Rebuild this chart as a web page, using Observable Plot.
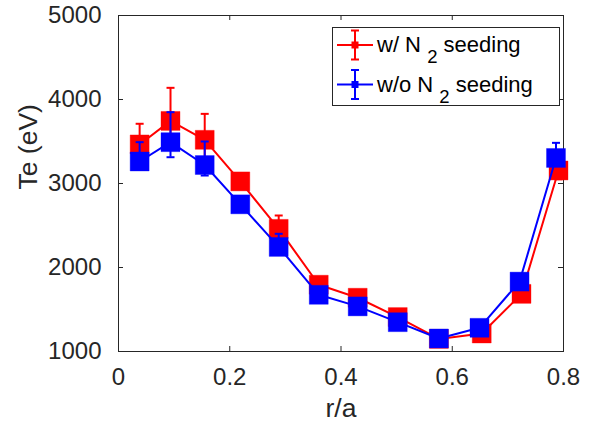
<!DOCTYPE html>
<html><head><meta charset="utf-8">
<script src="https://cdn.jsdelivr.net/npm/d3@7"></script>
<script src="https://cdn.jsdelivr.net/npm/@observablehq/plot@0.6"></script>
<style>
body{margin:0;background:#fff;}
#chart{position:relative;width:590px;height:423px;}
</style></head><body><div id="chart"></div>
<script>
// ---- data ----
const xTicks = [0, 0.2, 0.4, 0.6, 0.8];
const yTicks = [1000, 2000, 3000, 4000, 5000];
const xLabel = "r/a";
const yLabel = "Te (eV)";
const seriesNames = ["w/ N", "w/o N"];
const seriesSub = "2";
const seriesTail = " seeding";
const redR   = [0.038, 0.0935, 0.155, 0.219, 0.288, 0.360, 0.430, 0.502, 0.576, 0.653, 0.7245, 0.791];
const redTe  = [3465, 3745, 3520, 3025, 2460, 1795, 1640, 1410, 1150, 1214, 1686, 3155];
const redLo  = [3300, 3450, 3300, 2990, 2300, 1760, 1605, 1375, 1115, 1180, 1650, 3050];
const redHi  = [3711, 4139, 3829, 3060, 2619, 1830, 1675, 1445, 1185, 1250, 1720, 3260];
const blueR  = [0.038, 0.0935, 0.155, 0.219, 0.288, 0.360, 0.430, 0.502, 0.576, 0.649, 0.721, 0.7865];
const blueTe = [3262, 3492, 3220, 2752, 2245, 1675, 1537, 1349, 1155, 1282, 1832, 3304];
const blueLo = [3200, 3313, 3095, 2715, 2150, 1640, 1500, 1315, 1120, 1245, 1795, 3220];
const blueHi = [3492, 3849, 3500, 2790, 2401, 1710, 1575, 1385, 1190, 1320, 1870, 3484];

const RED = "#ff0000", BLUE = "#0000ff", INK = "#262626";
const FONT = "'Liberation Sans', Arial, Helvetica, sans-serif";

const red = redR.map((r, i) => ({r, te: redTe[i], lo: redLo[i], hi: redHi[i]}));
const blue = blueR.map((r, i) => ({r, te: blueTe[i], lo: blueLo[i], hi: blueHi[i]}));

const cap = {draw(ctx) { ctx.moveTo(-4, 0); ctx.lineTo(4, 0); }};

function series(data, color) {
  return [
    Plot.line(data, {x: "r", y: "te", stroke: color, strokeWidth: 2}),
    Plot.ruleX(data, {x: "r", y1: "lo", y2: "hi", stroke: color, strokeWidth: 2}),
    Plot.dot(data, {x: "r", y: "hi", symbol: cap, r: 4, stroke: color, strokeWidth: 2}),
    Plot.dot(data, {x: "r", y: "lo", symbol: cap, r: 4, stroke: color, strokeWidth: 2}),
    Plot.dot(data, {x: "r", y: "te", symbol: "square", r: 10.7, fill: color, stroke: color, strokeOpacity: 0.35, strokeWidth: 1})
  ];
}

const svg = Plot.plot({
  width: 590, height: 423,
  marginLeft: 118, marginRight: 27, marginTop: 15, marginBottom: 72,
  style: {fontFamily: FONT, background: "#fff", color: INK},
  x: {domain: [0, 0.8]},
  y: {domain: [1000, 5000]},
  marks: [
    Plot.frame({stroke: INK, strokeWidth: 1}),
    Plot.ruleX(xTicks, {x: d => d, insetTop: 331, stroke: INK}),
    Plot.ruleX(xTicks, {x: d => d, insetBottom: 331, stroke: INK}),
    Plot.ruleY(yTicks, {y: d => d, insetRight: 440, stroke: INK}),
    Plot.ruleY(yTicks, {y: d => d, insetLeft: 440, stroke: INK}),
    Plot.axisX({ticks: xTicks, tickSize: 0, tickPadding: 16, tickFormat: d => String(d), fontSize: 24, label: null, fill: INK}),
    Plot.axisY({ticks: yTicks, tickSize: 0, tickPadding: 17, tickFormat: d3.format("d"), fontSize: 24, label: null, fill: INK}),
    Plot.text([xLabel], {frameAnchor: "bottom", dy: 65, lineAnchor: "bottom", fontSize: 26.5, fill: INK}),
    Plot.text([yLabel], {frameAnchor: "left", dx: -82, dy: 6, rotate: -90, lineAnchor: "bottom", fontSize: 26.5, fill: INK}),
    ...series(red, RED),
    ...series(blue, BLUE)
  ]
});
document.getElementById("chart").appendChild(svg);

// ---- legend ----
const lg = d3.select(svg).append("g").attr("font-family", FONT).attr("text-anchor", "start");
lg.append("rect").attr("x", 332.5).attr("y", 27.5).attr("width", 227).attr("height", 78)
  .attr("fill", "#fff").attr("stroke", INK).attr("stroke-width", 1);
[[RED, 45, seriesNames[0]], [BLUE, 84.5, seriesNames[1]]].forEach(([c, y, name]) => {
  const g = lg.append("g");
  g.append("line").attr("x1", 337).attr("x2", 373).attr("y1", y).attr("y2", y).attr("stroke", c).attr("stroke-width", 2);
  g.append("line").attr("x1", 355).attr("x2", 355).attr("y1", y - 14.5).attr("y2", y + 14.5).attr("stroke", c).attr("stroke-width", 2);
  g.append("line").attr("x1", 351).attr("x2", 359).attr("y1", y - 14.5).attr("y2", y - 14.5).attr("stroke", c).attr("stroke-width", 2);
  g.append("line").attr("x1", 351).attr("x2", 359).attr("y1", y + 14.5).attr("y2", y + 14.5).attr("stroke", c).attr("stroke-width", 2);
  g.append("rect").attr("x", 351.5).attr("y", y - 3.5).attr("width", 7).attr("height", 7).attr("fill", c);
  const t = g.append("text").attr("x", 377).attr("y", y + 7).attr("font-size", 22).attr("fill", "#000")
    .style("text-anchor", "start");
  t.append("tspan").text(name + " ");
  t.append("tspan").attr("dy", 11).attr("font-size", 18.5).text(seriesSub);
  t.append("tspan").attr("dy", -11).text(seriesTail);
});
</script>
</body></html>
